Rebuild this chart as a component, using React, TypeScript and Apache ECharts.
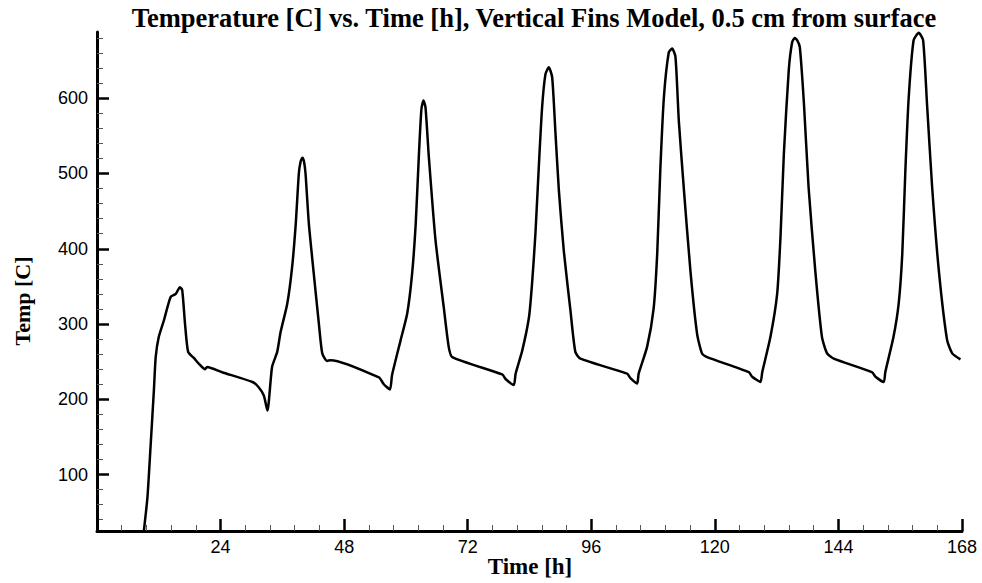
import React, { useEffect, useRef } from "react";
import * as echarts from "echarts";

// Time [h] and temperature [C], grouped per cycle
const hours = [
  9.1, 9.8, 10.4, 11.05, 11.4, 12.0, 13.0, 14.3, 15.3, 16.1, 16.55, 17.1, 17.7, 18.8, 19.8, 20.95, 21.4, 24.3, 30.2, 31.4, 32.4, 33.1,
  34.0, 35.0, 35.65, 36.95, 37.9, 38.6, 39.2, 39.55, 39.9, 40.2, 40.5, 41.15, 42.1, 43.1, 43.75, 44.7, 45.4, 54.75, 55.7, 56.9,
  57.3, 58.95, 60.25, 61.2, 61.9, 62.5, 63.0, 63.4, 63.8, 64.45, 65.75, 67.35, 68.3, 69.0, 78.7, 79.35, 80.95,
  81.3, 82.6, 83.9, 84.5, 85.15, 85.8, 86.45, 87.1, 87.75, 88.4, 89.05, 89.7, 90.65, 91.95, 92.9, 93.9, 102.95, 103.6, 104.9,
  105.2, 106.85, 108.1, 108.8, 109.4, 110.1, 111.05, 111.7, 112.35, 113.0, 113.95, 115.25, 116.55, 117.5, 118.5, 126.6, 127.25, 128.85,
  129.2, 130.8, 132.1, 132.75, 133.4, 134.35, 135.0, 135.5, 136.0, 136.5, 137.3, 138.2, 139.5, 140.8, 141.8, 143.1, 150.5, 151.2, 152.8,
  153.1, 154.7, 155.7, 156.4, 157.0, 157.65, 158.6, 159.6, 160.45, 161.2, 162.2, 163.5, 165.1, 166.1, 167.7,
];
const temps = [
  25, 70, 137, 212, 256, 283, 305, 336, 340, 349, 345, 300, 263, 255, 247, 240, 243, 236, 223, 216, 205, 185,
  243, 263, 289, 327, 376, 433, 500, 516, 521, 516, 500, 433, 367, 300, 261, 251, 252, 229, 220, 213,
  232, 278, 314, 367, 433, 522, 585, 597, 588, 522, 411, 322, 270, 256, 233, 227, 219,
  234, 265, 309, 354, 420, 508, 588, 632, 641, 628, 553, 478, 398, 318, 263, 254, 234, 228, 221,
  234, 270, 320, 393, 504, 601, 661, 666, 655, 570, 482, 371, 287, 261, 256, 236, 230, 223,
  236, 283, 340, 416, 526, 637, 674, 680, 677, 668, 593, 482, 371, 283, 261, 254, 236, 230, 223,
  236, 283, 327, 393, 504, 601, 677, 687, 677, 593, 482, 371, 279, 261, 253,
];

const yMajorTicks = [100, 200, 300, 400, 500, 600];
const yMinorTicks = [
  40, 60, 80, 120, 140, 160, 180, 220, 240, 260, 280, 320, 340, 360, 380,
  420, 440, 460, 480, 520, 540, 560, 580, 620, 640, 660, 680,
];

const titleText = "Temperature [C] vs. Time [h], Vertical Fins Model, 0.5 cm from surface";
const xName = "Time [h]";
const yName = "Temp [C]";

export default function App() {
  const ref = useRef<HTMLDivElement>(null);
  useEffect(() => {
    if (!ref.current) return;
    const chart = echarts.init(ref.current, null, { renderer: "svg" });
    const data = hours.map((h, i) => [h, temps[i]]);
    const serif = "'Liberation Serif', 'Times New Roman', serif";
    const sans = "'Liberation Sans', Arial, sans-serif";
    chart.setOption({
      animation: false,
      backgroundColor: "#fff",
      grid: { left: 97, right: 20, top: 32, bottom: 52, containLabel: false },
      graphic: [
        {
          type: "text",
          x: 534,
          y: 18,
          style: {
            text: titleText,
            font: `bold 26.5px ${serif}`,
            fill: "#000",
            textAlign: "center",
            textVerticalAlign: "middle",
          },
        },
        {
          type: "text",
          x: 530,
          y: 566,
          style: {
            text: xName,
            font: `bold 23px ${serif}`,
            fill: "#000",
            textAlign: "center",
            textVerticalAlign: "middle",
          },
        },
        {
          type: "text",
          x: 22,
          y: 301,
          rotation: Math.PI / 2,
          style: {
            text: yName,
            font: `bold 22px ${serif}`,
            fill: "#000",
            textAlign: "center",
            textVerticalAlign: "middle",
          },
        },
      ],
      xAxis: {
        type: "value",
        min: 0,
        max: 168,
        interval: 24,
        axisLine: { show: true, onZero: false, lineStyle: { color: "#000", width: 3 } },
        axisTick: { show: true, inside: true, length: 12, lineStyle: { color: "#000", width: 2.5 } },
        minorTick: { show: true, splitNumber: 5, length: 6, lineStyle: { color: "#555", width: 1 } },
        axisLabel: {
          showMinLabel: false,
          color: "#000",
          fontFamily: sans,
          fontSize: 18,
          margin: 7,
        },
        splitLine: { show: false },
        minorSplitLine: { show: false },
      },
      yAxis: [
        {
          type: "value",
          min: 25,
          max: 688,
          axisLine: { show: true, onZero: false, lineStyle: { color: "#000", width: 3 } },
          axisTick: {
            show: true,
            inside: true,
            length: 12,
            customValues: yMajorTicks,
            lineStyle: { color: "#000", width: 2.5 },
          },
          axisLabel: {
            customValues: yMajorTicks,
            color: "#000",
            fontFamily: sans,
            fontSize: 18,
            margin: 9,
          },
          splitLine: { show: false },
        },
        {
          type: "value",
          min: 25,
          max: 688,
          position: "left",
          axisLine: { show: false },
          axisTick: {
            show: true,
            inside: true,
            length: 6,
            customValues: yMinorTicks,
            lineStyle: { color: "#555", width: 1 },
          },
          axisLabel: { show: false },
          splitLine: { show: false },
        },
      ],
      series: [
        {
          type: "line",
          yAxisIndex: 0,
          data,
          showSymbol: false,
          smooth: 0.2,
          clip: true,
          lineStyle: { color: "#000", width: 2.5, join: "round" },
        },
      ],
    });
    return () => chart.dispose();
  }, []);
  return (
    <div
      ref={ref}
      style={{ position: "fixed", left: 0, top: 0, width: 982, height: 583, background: "#fff" }}
    />
  );
}
